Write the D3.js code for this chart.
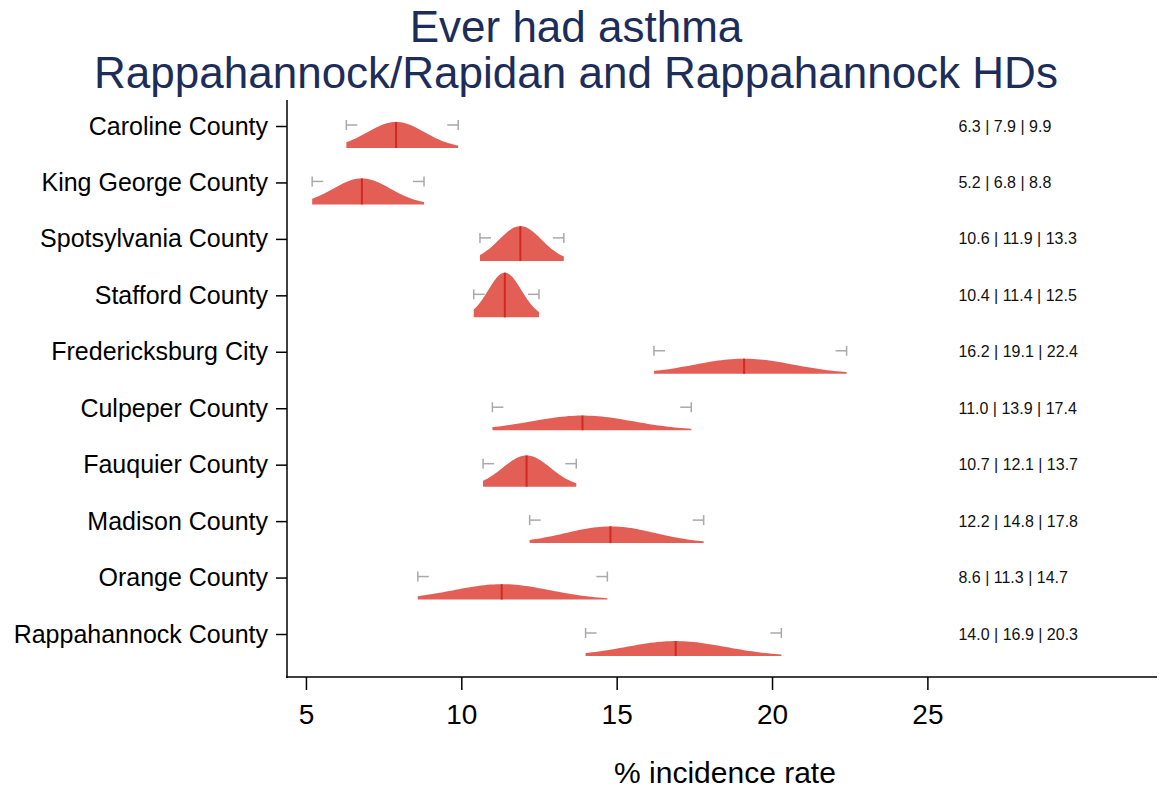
<!DOCTYPE html>
<html>
<head>
<meta charset="utf-8">
<script src="https://cdn.jsdelivr.net/npm/d3@7"></script>
<style>
  body { margin: 0; background: #fff; }
  svg { font-family: "Liberation Sans", Arial, sans-serif; }
</style>
</head>
<body>
<svg id="chart" width="1159" height="792"></svg>
<script>
// data
var counties = ["Caroline County", "King George County", "Spotsylvania County", "Stafford County",
  "Fredericksburg City", "Culpeper County", "Fauquier County", "Madison County",
  "Orange County", "Rappahannock County"];
var lower = [6.3, 5.2, 10.6, 10.4, 16.2, 11.0, 10.7, 12.2, 8.6, 14.0];
var estimate = [7.9, 6.8, 11.9, 11.4, 19.1, 13.9, 12.1, 14.8, 11.3, 16.9];
var upper = [9.9, 8.8, 13.3, 12.5, 22.4, 17.4, 13.7, 17.8, 14.7, 20.3];
var xTicks = [5, 10, 15, 20, 25];

var svg = d3.select("#chart");

// scales
var x = d3.scaleLinear().domain([4.39, 32.39]).range([287, 1157]);
var y = d3.scalePoint().domain(counties).range([126, 634]);
var h = d3.scaleLinear().domain([0, 1]).range([0, 60]); // density -> px

// title
svg.append("text").attr("x", 576).attr("y", 42).attr("text-anchor", "middle")
  .style("font-size", "44px").style("fill", "#1c2d5a").text("Ever had asthma");
svg.append("text").attr("x", 576).attr("y", 88).attr("text-anchor", "middle")
  .style("font-size", "44px").style("fill", "#1c2d5a").text("Rappahannock/Rapidan and Rappahannock HDs");

// axes
var yAxis = d3.axisLeft(y).tickSize(11).tickPadding(8);
var gy = svg.append("g").attr("transform", "translate(287,0)").call(yAxis);
gy.select(".domain").remove();
gy.append("line").attr("x1", 0).attr("x2", 0).attr("y1", 100).attr("y2", 678)
  .attr("stroke", "#000").attr("stroke-width", 1.5);
gy.selectAll(".tick line").attr("stroke-width", 1.5);
gy.selectAll(".tick text").style("font-size", "25px").attr("fill", "#000");

var xAxis = d3.axisBottom(x).tickValues(xTicks).tickSize(13).tickPadding(14);
var gx = svg.append("g").attr("transform", "translate(0,677)").call(xAxis);
gx.select(".domain").remove();
gx.append("line").attr("x1", 286).attr("x2", 1157).attr("y1", 0).attr("y2", 0)
  .attr("stroke", "#000").attr("stroke-width", 1.5);
gx.selectAll(".tick line").attr("stroke-width", 1.5);
gx.selectAll(".tick text").style("font-size", "28px").attr("fill", "#000");

svg.append("text").attr("x", 725).attr("y", 783).attr("text-anchor", "middle")
  .style("font-size", "30px").text("% incidence rate");

// ridges
function dens(v, m, sd) {
  return Math.exp(-0.5 * Math.pow((v - m) / sd, 2)) / (sd * Math.sqrt(2 * Math.PI));
}

counties.forEach(function(name, i) {
  var lo = lower[i], est = estimate[i], hi = upper[i];
  var sd = (hi - lo) / 3.92;
  var base = y(name) + 22;
  var pts = d3.range(0, 61).map(function(k) { return lo + (hi - lo) * k / 60; });

  var area = d3.area()
    .x(function(d) { return x(d); })
    .y0(base)
    .y1(function(d) { return base - h(dens(d, est, sd)); });

  svg.append("path").datum(pts).attr("d", area)
    .attr("fill", "#e35f56");

  svg.append("line")
    .attr("x1", x(est)).attr("x2", x(est))
    .attr("y1", base).attr("y2", base - h(dens(est, est, sd)))
    .attr("stroke", "#cf2a22").attr("stroke-width", 2);

  // whiskers
  var wy = y(name) - 1;
  var g = svg.append("g").attr("stroke", "#a9a9a9").attr("stroke-width", 1.5).attr("fill", "none");
  g.append("line").attr("x1", x(lo)).attr("x2", x(lo) + 11).attr("y1", wy).attr("y2", wy);
  g.append("line").attr("x1", x(lo)).attr("x2", x(lo)).attr("y1", wy - 5).attr("y2", wy + 5);
  g.append("line").attr("x1", x(hi) - 11).attr("x2", x(hi)).attr("y1", wy).attr("y2", wy);
  g.append("line").attr("x1", x(hi)).attr("x2", x(hi)).attr("y1", wy - 5).attr("y2", wy + 5);

  svg.append("text").attr("x", x(26)).attr("y", y(name)).attr("dy", "0.35em")
    .style("font-size", "16px").attr("fill", "#111")
    .text(lo.toFixed(1) + " | " + est.toFixed(1) + " | " + hi.toFixed(1));
});
</script>
</body>
</html>
